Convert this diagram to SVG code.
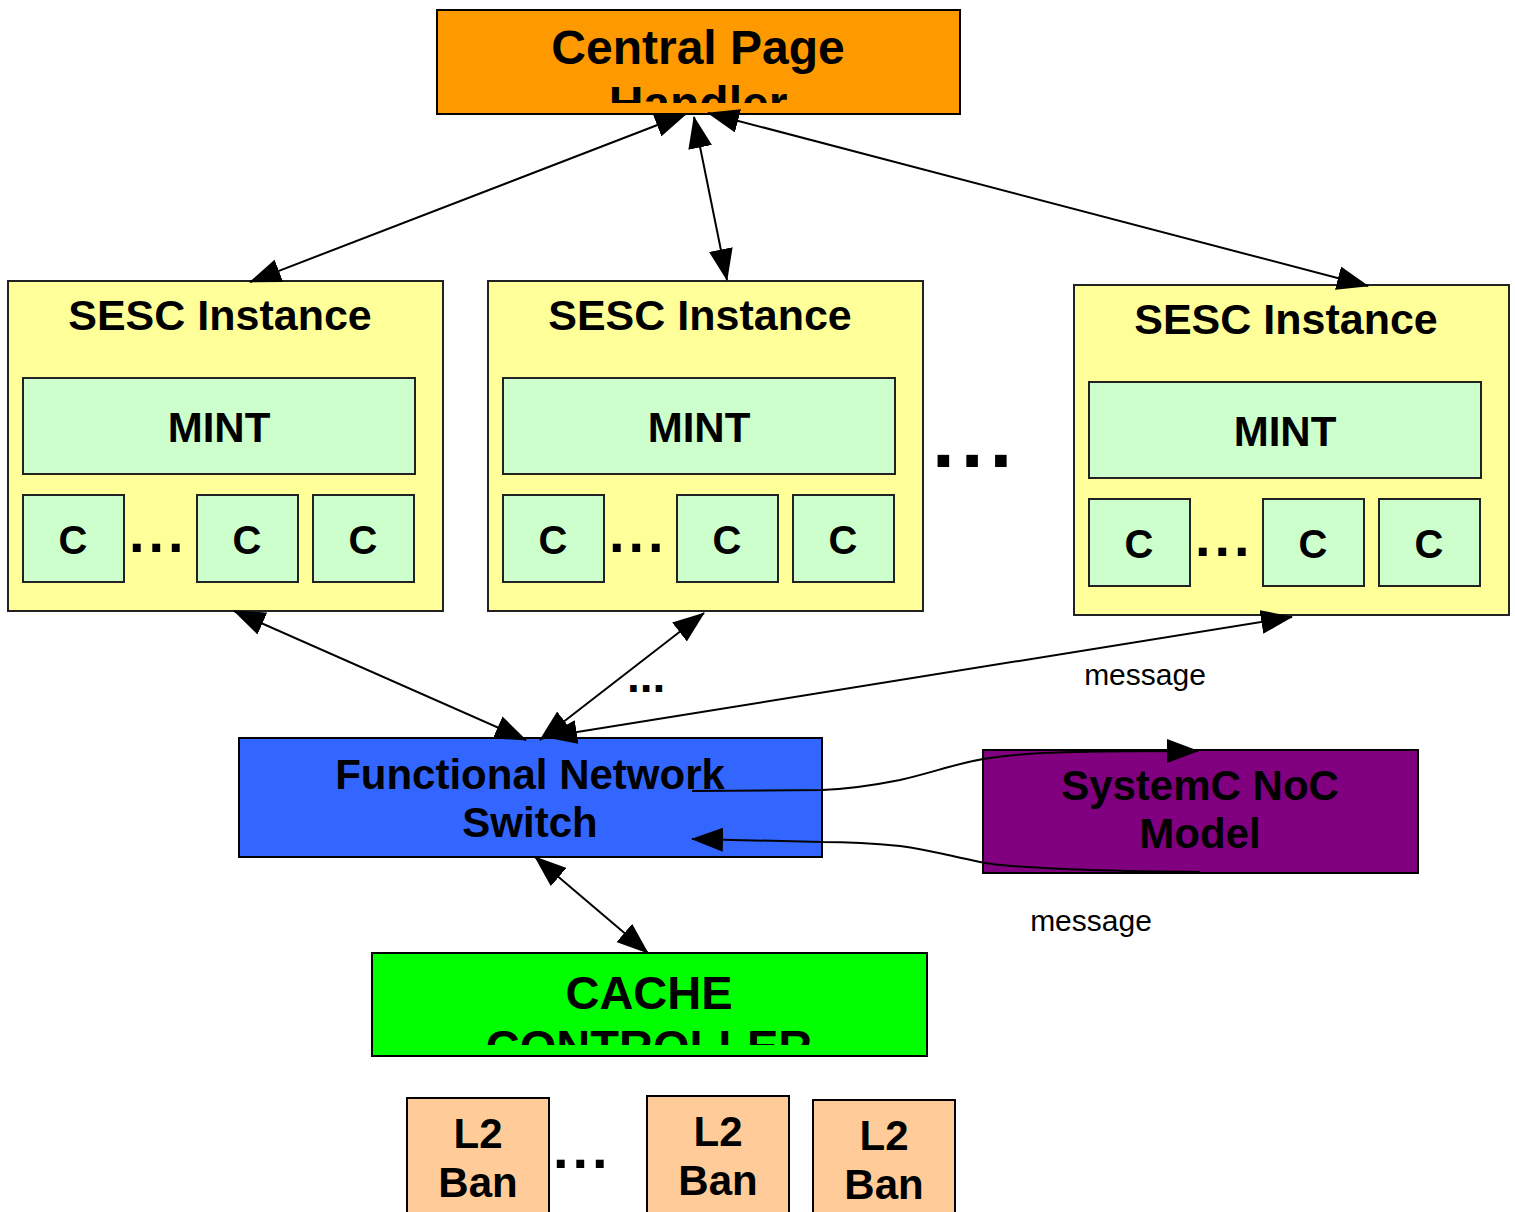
<svg xmlns="http://www.w3.org/2000/svg" width="1515" height="1212" viewBox="0 0 1515 1212">
<defs>
<style>
.t{font-family:"Liberation Sans",Arial,sans-serif;font-weight:bold;fill:#000;text-anchor:middle}
.r{font-family:"Liberation Sans",Arial,sans-serif;fill:#000;text-anchor:middle}
.d{font-family:"Liberation Sans",Arial,sans-serif;font-weight:bold;fill:#000}
.box{stroke:#000;stroke-width:2}
.sesc{fill:#FFFF99;stroke:#222;stroke-width:2}
.mint{fill:#CCFFCC;stroke:#222;stroke-width:2}
.l2{fill:#FFCC99;stroke:#000;stroke-width:2}
.ln{fill:none;stroke:#000;stroke-width:2}
</style>
<marker id="ah" markerUnits="userSpaceOnUse" markerWidth="32" markerHeight="24" viewBox="0 0 32 24" refX="31" refY="12" orient="auto-start-reverse">
<path d="M0,0 L32,12 L0,24 z" fill="#000"/>
</marker>
<clipPath id="cpH"><rect x="437" y="10" width="523" height="93"/></clipPath>
<clipPath id="cpC"><rect x="372" y="953" width="555" height="92"/></clipPath>
</defs>

<g id="central">
<rect class="box" x="437" y="10" width="523" height="104" fill="#FF9900"/>
<g clip-path="url(#cpH)">
<text class="t" x="698" y="64" font-size="48">Central Page</text>
<text class="t" x="698" y="120" font-size="48">Handler</text>
</g>
</g>

<g id="sesc1">
<rect class="sesc" x="8" y="281" width="435" height="330"/>
<text class="t" x="220" y="330" font-size="43">SESC Instance</text>
<rect class="mint" x="23" y="378" width="392" height="96"/>
<text class="t" x="219" y="442" font-size="42">MINT</text>
<rect class="mint" x="23" y="495" width="101" height="87"/>
<rect class="mint" x="197" y="495" width="101" height="87"/>
<rect class="mint" x="313" y="495" width="101" height="87"/>
<text class="t" x="73" y="554" font-size="40">C</text>
<text class="t" x="247" y="554" font-size="40">C</text>
<text class="t" x="363" y="554" font-size="40">C</text>
<text class="d" x="129" y="552" font-size="56" letter-spacing="4">...</text>
</g>

<g id="sesc2">
<rect class="sesc" x="488" y="281" width="435" height="330"/>
<text class="t" x="700" y="330" font-size="43">SESC Instance</text>
<rect class="mint" x="503" y="378" width="392" height="96"/>
<text class="t" x="699" y="442" font-size="42">MINT</text>
<rect class="mint" x="503" y="495" width="101" height="87"/>
<rect class="mint" x="677" y="495" width="101" height="87"/>
<rect class="mint" x="793" y="495" width="101" height="87"/>
<text class="t" x="553" y="554" font-size="40">C</text>
<text class="t" x="727" y="554" font-size="40">C</text>
<text class="t" x="843" y="554" font-size="40">C</text>
<text class="d" x="609" y="552" font-size="56" letter-spacing="4">...</text>
</g>

<g id="sesc3">
<rect class="sesc" x="1074" y="285" width="435" height="330"/>
<text class="t" x="1286" y="334" font-size="43">SESC Instance</text>
<rect class="mint" x="1089" y="382" width="392" height="96"/>
<text class="t" x="1285" y="446" font-size="42">MINT</text>
<rect class="mint" x="1089" y="499" width="101" height="87"/>
<rect class="mint" x="1263" y="499" width="101" height="87"/>
<rect class="mint" x="1379" y="499" width="101" height="87"/>
<text class="t" x="1139" y="558" font-size="40">C</text>
<text class="t" x="1313" y="558" font-size="40">C</text>
<text class="t" x="1429" y="558" font-size="40">C</text>
<text class="d" x="1195" y="556" font-size="56" letter-spacing="4">...</text>
</g>

<g id="dots-sesc">
<text class="d" x="932" y="467" font-size="82" letter-spacing="6">...</text>
</g>

<g id="switch">
<rect class="box" x="239" y="738" width="583" height="119" fill="#3366FF"/>
<text class="t" x="530" y="789" font-size="42">Functional Network</text>
<text class="t" x="530" y="837" font-size="42">Switch</text>
</g>

<g id="systemc">
<rect class="box" x="983" y="750" width="435" height="123" fill="#800080"/>
<text class="t" x="1200" y="800" font-size="42">SystemC NoC</text>
<text class="t" x="1200" y="848" font-size="42">Model</text>
</g>

<g id="cache">
<rect class="box" x="372" y="953" width="555" height="103" fill="#00FF00"/>
<g clip-path="url(#cpC)">
<text class="t" x="649" y="1009" font-size="47">CACHE</text>
<text class="t" x="649" y="1063" font-size="47">CONTROLLER</text>
</g>
</g>

<g id="l2a">
<rect class="l2" x="407" y="1098" width="142" height="130"/>
<text class="t" x="478" y="1148" font-size="42">L2</text>
<text class="t" x="478" y="1197" font-size="42">Ban</text>
</g>
<g id="l2b">
<rect class="l2" x="647" y="1096" width="142" height="130"/>
<text class="t" x="718" y="1146" font-size="42">L2</text>
<text class="t" x="718" y="1195" font-size="42">Ban</text>
</g>
<g id="l2c">
<rect class="l2" x="813" y="1100" width="142" height="130"/>
<text class="t" x="884" y="1150" font-size="42">L2</text>
<text class="t" x="884" y="1199" font-size="42">Ban</text>
</g>
<g id="dots-l2">
<text class="d" x="553" y="1168" font-size="56" letter-spacing="4">...</text>
</g>

<g id="connectors">
<line class="ln" x1="686" y1="114" x2="250" y2="282" marker-start="url(#ah)" marker-end="url(#ah)"/>
<line class="ln" x1="694" y1="117" x2="727" y2="280" marker-start="url(#ah)" marker-end="url(#ah)"/>
<line class="ln" x1="708" y1="113" x2="1368" y2="286" marker-start="url(#ah)" marker-end="url(#ah)"/>
<line class="ln" x1="234" y1="611" x2="526" y2="740" marker-start="url(#ah)" marker-end="url(#ah)"/>
<line class="ln" x1="704" y1="613" x2="540" y2="740" marker-start="url(#ah)" marker-end="url(#ah)"/>
<line class="ln" x1="1292" y1="617" x2="546" y2="737" marker-start="url(#ah)" marker-end="url(#ah)"/>
<line class="ln" x1="535" y1="857" x2="648" y2="953" marker-start="url(#ah)" marker-end="url(#ah)"/>
<path class="ln" d="M692,791 L822,790 C850,789 870,786 900,780 C935,772 960,762 990,758 C1030,752 1080,751 1198,751" marker-end="url(#ah)"/>
<path class="ln" d="M1200,872 C1080,871 1010,868 980,862 C950,856 930,850 900,846 C870,843 850,842 822,842 L692,839" marker-end="url(#ah)"/>
<text class="d" x="627" y="692" font-size="46">...</text>
<text class="r" x="1145" y="685" font-size="30">message</text>
<text class="r" x="1091" y="931" font-size="30">message</text>
</g>
</svg>
